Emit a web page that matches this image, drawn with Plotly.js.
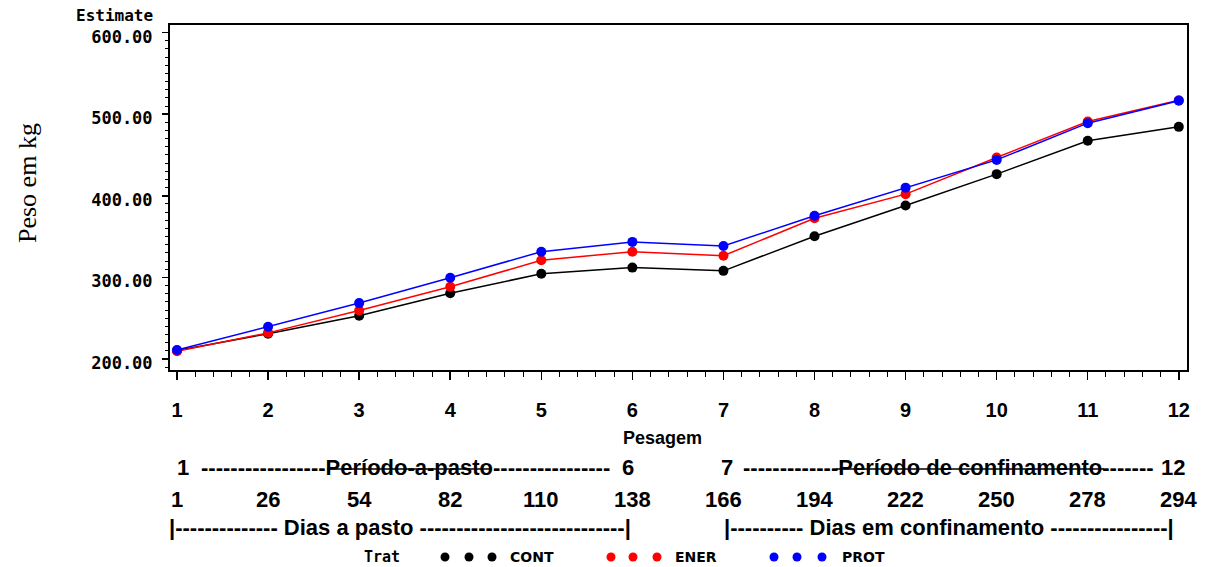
<!DOCTYPE html>
<html><head><meta charset="utf-8">
<script src="https://cdn.plot.ly/plotly-3.0.1.min.js"></script>
<style>html,body{margin:0;padding:0;background:#fff}#chart{width:1207px;height:567px}</style>
</head><body><div id="chart"></div>
<script>
// ---- data ----
const pesagem = [1,2,3,4,5,6,7,8,9,10,11,12];
const pesagemLabels = ['1','2','3','4','5','6','7','8','9','10','11','12'];
const dias = ['1','26','54','82','110','138','166','194','222','250','278','294'];
const cont = [210.5,231,253,280.5,304.5,312,308,350.5,388,426.5,467.5,484.5];
const ener = [209.5,232,259.5,288.5,321,331.5,326.5,372.5,402,447,491,517];
const prot = [211,239.5,268.5,299.5,331.5,343.5,338.5,375.5,410,444,489,516.5];
const yTicks = [200,300,400,500,600];
const yTickLabels = ['200.00','300.00','400.00','500.00','600.00'];
const treatments = ['CONT','ENER','PROT'];
const colors = ['#000000','#ff0000','#0000ff'];

// ---- layout helpers (pixel -> paper) ----
const W=1207,H=567,ML=170,MR=20,MT=25,MB=197;
const PW=W-ML-MR, PH=H-MT-MB;
const px = v => (v-ML)/PW;
const py = v => (H-MB-v)/PH;

const series = [cont, ener, prot];
const traces = series.map((s,i)=>({
  x: pesagem, y: s, type:'scatter', mode:'lines+markers', name: treatments[i],
  line:{color:colors[i], width:1.5}, marker:{color:colors[i], size:10}, showlegend:false
}));

const SANS = '"Liberation Sans",Arial,sans-serif';
const MONO = '"DejaVu Sans Mono",monospace';
const bf = (size, fam) => ({family: fam||SANS, size: size, color:'#000', weight:'bold'});

const ann = [];
function A(text, x, y, opts){ ann.push(Object.assign({text:text, x:px(x), y:py(y), xref:'paper', yref:'paper', showarrow:false, xanchor:'center', yanchor:'middle', font:bf(22)}, opts||{})); }

A('Estimate', 155, 15, {xanchor:'right', font:bf(16, MONO)});
A('Peso em kg', 28, 183, {textangle:-90, font:{family:'"Liberation Serif","Times New Roman",serif', size:26, color:'#000'}});
A('Pesagem', 662, 438, {font:bf(18)});
// period row
A('1', 183, 467);
A('-----------------Período-a-pasto----------------', 405, 467);
A('6', 628, 467);
A('7', 727, 467);
A('-------------Período de confinamento-------', 948, 467);
A('12', 1173, 467);
// days row
dias.forEach((d,i)=>ann.push({text:d, x:pesagem[i], xref:'x', y:py(500), yref:'paper', showarrow:false, xanchor:'center', yanchor:'middle', font:bf(22)}));
// dias row
A('|-------------- Dias a pasto ----------------------------|', 400, 527);
A('|---------- Dias em confinamento ----------------|', 949, 527);
// legend
A('Trat', 402, 557, {xanchor:'right', font:bf(15, MONO)});
const legX = [[445,469,492],[611,633,657],[774,797,822]];
const legTextX = [508,673,840];
treatments.forEach((t,i)=>A(t, legTextX[i], 557, {xanchor:'left', font:bf(14,'"DejaVu Sans",sans-serif')}));

const shapes = [];
legX.forEach((xs,i)=>xs.forEach(c=>shapes.push({type:'circle', xref:'paper', yref:'paper', x0:px(c-4.5), x1:px(c+4.5), y0:py(561.5), y1:py(552.5), fillcolor:colors[i], line:{color:colors[i], width:0}})));
// strike-through lines over the period words
shapes.push({type:'line', xref:'paper', yref:'paper', x0:px(327), x1:px(492), y0:py(469), y1:py(469), line:{color:'#000', width:1.5}});
shapes.push({type:'line', xref:'paper', yref:'paper', x0:px(836), x1:px(1104), y0:py(469), y1:py(469), line:{color:'#000', width:1.5}});

const layout = {
  width:W, height:H, margin:{l:ML, r:MR, t:MT, b:MB, pad:0},
  paper_bgcolor:'#fff', plot_bgcolor:'#fff', showlegend:false,
  xaxis:{range:[0.923,12.09], tickmode:'array', tickvals:pesagem, ticktext:pesagemLabels,
    showline:true, mirror:true, linecolor:'#000', linewidth:2, ticks:'outside', ticklen:8, tickwidth:1.5, tickcolor:'#000',
    ticklabelstandoff:13, tickfont:bf(20), showgrid:false, zeroline:false,
    minor:{tickmode:'linear', tick0:1, dtick:0.2, ticks:'outside', ticklen:5, tickcolor:'#000', tickwidth:1, showgrid:false}},
  yaxis:{range:[186.5,609.3], tickmode:'array', tickvals:yTicks, ticktext:yTickLabels,
    showline:true, mirror:true, linecolor:'#000', linewidth:2, ticks:'outside', ticklen:6, tickwidth:1.5, tickcolor:'#000',
    ticklabelstandoff:6, ticklabelshift:4, tickfont:bf(17, MONO), showgrid:false, zeroline:false,
    minor:{tickmode:'linear', tick0:200, dtick:10, ticks:'outside', ticklen:3, tickcolor:'#000', tickwidth:1, showgrid:false}},
  annotations: ann, shapes: shapes
};
Plotly.newPlot('chart', traces, layout, {displayModeBar:false, staticPlot:true});
</script></body></html>
